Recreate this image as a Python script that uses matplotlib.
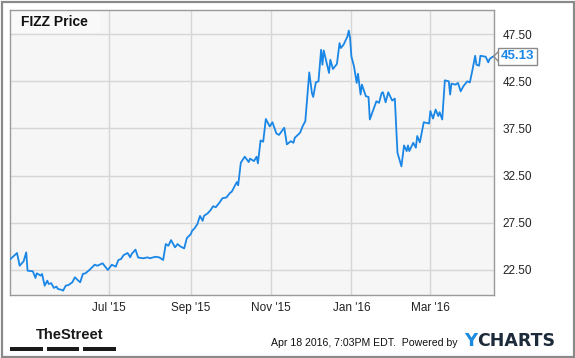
import pandas as pd
import matplotlib
matplotlib.use("Agg")
from matplotlib import pyplot as plt
import matplotlib.dates as mdates
from matplotlib.patches import Rectangle, Polygon
from matplotlib.transforms import IdentityTransform

# FIZZ closing price (days counted from 2015-04-17)
start_date = "2015-04-17"
day_offsets = [0, 5, 7, 10, 12, 13, 17, 19, 20, 23, 24, 26, 28, 29, 31, 33, 35, 36, 39, 40,
               42, 44, 47, 49, 51, 53, 55, 57, 60, 64, 66, 70, 74, 77, 80, 82, 84, 86, 89, 91,
               92, 95, 97, 101, 104, 106, 110, 113, 116, 118, 120, 122, 125, 127, 129, 132, 134, 137, 138, 140,
               142, 144, 146, 147, 150, 152, 154, 156, 159, 161, 164, 167, 168, 172, 173, 175, 178, 181, 182, 185,
               187, 188, 190, 192, 194, 197, 199, 202, 204, 208, 210, 213, 215, 216, 220, 222, 224, 227, 229, 230,
               232, 234, 236, 237, 238, 242, 243, 245, 248, 250, 251, 253, 256, 257, 258, 259, 261, 263, 264, 266,
               267, 270, 272, 273, 278, 280, 282, 283, 285, 287, 290, 292, 294, 297, 299, 301, 302, 303, 306, 308,
               309, 311, 314, 318, 319, 321, 323, 325, 326, 328, 330, 333, 334, 335, 338, 340, 342, 344, 347, 349,
               351, 353, 354, 356, 357, 361, 363, 364, 366, 367]
prices = [23.66, 24.30, 22.95, 23.42, 24.37, 22.43, 22.36, 21.66, 22.15, 21.90, 22.08, 20.84, 21.37, 21.02, 21.10, 20.60, 20.74, 20.49, 20.39, 20.31,
          20.84, 20.90, 21.20, 21.73, 21.44, 21.20, 22.08, 22.15, 22.50, 23.06, 22.95, 23.21, 22.50, 23.06, 22.85, 23.56, 23.66, 24.08, 24.30, 23.84,
          24.19, 24.66, 23.82, 23.74, 23.84, 23.74, 23.90, 23.84, 23.56, 25.25, 25.07, 25.67, 24.90, 25.25, 25.00, 24.79, 25.88, 26.30, 26.65, 26.94,
          27.36, 28.23, 27.71, 28.23, 28.52, 28.84, 29.26, 29.15, 29.68, 30.10, 30.18, 30.70, 30.77, 31.82, 31.48, 33.87, 34.51, 33.94, 34.30, 34.04,
          34.51, 33.80, 36.23, 36.09, 38.50, 37.71, 38.16, 36.97, 36.81, 37.57, 35.81, 36.15, 35.98, 36.51, 37.04, 37.74, 38.27, 43.44, 41.26, 40.84,
          42.38, 42.49, 45.84, 44.25, 45.76, 43.38, 44.78, 43.80, 44.33, 46.54, 46.02, 46.36, 47.24, 47.87, 47.07, 45.13, 44.07, 42.32, 43.30, 41.09,
          42.14, 40.91, 40.84, 38.45, 40.38, 40.21, 41.26, 41.33, 40.27, 41.33, 40.45, 40.66, 34.93, 33.48, 35.70, 35.10, 35.70, 35.10, 35.98, 35.46,
          36.70, 36.02, 38.16, 38.02, 39.34, 38.55, 39.50, 38.81, 39.22, 38.45, 42.60, 42.49, 41.09, 42.25, 42.14, 42.32, 41.43, 41.96, 42.49, 42.38,
          43.72, 45.20, 44.25, 44.15, 45.20, 45.10, 44.50, 44.86, 45.07, 45.13]

y_ticks = [22.5, 27.5, 32.5, 37.5, 42.5, 47.5]
x_tick_dates = ["2015-07-01", "2015-09-01", "2015-11-01", "2016-01-01", "2016-03-01"]
x_tick_labels = ["Jul '15", "Sep '15", "Nov '15", "Jan '16", "Mar '16"]

dates = pd.Timestamp(start_date) + pd.to_timedelta(day_offsets, unit="D")

plt.rcParams['font.family'] = ['Liberation Sans', 'DejaVu Sans']

W, H = 575, 358
fig = plt.figure(figsize=(W / 100, H / 100), dpi=100)
fig.patch.set_facecolor("white")

# outer frame
fig.patches.append(Rectangle((1.5 / W, 1.5 / H), 1 - 3 / W, 1 - 3 / H, transform=fig.transFigure,
                             fill=False, edgecolor="#8a8a8a", linewidth=1.6))

ax = fig.add_axes([10 / W, 1 - 295 / H, 484 / W, 285 / H])
ax.set_facecolor("#f6f6f6")
ax.plot(dates, prices, color="#1a86e6", linewidth=1.3, zorder=3)

ax.set_ylim(19.85, 50.05)
ax.set_xlim(pd.Timestamp(start_date) - pd.Timedelta(hours=8),
            pd.Timestamp(start_date) + pd.Timedelta(days=367, hours=8))
ax.set_yticks(y_ticks)
ax.set_yticklabels(["%.2f" % v for v in y_ticks])
ax.yaxis.tick_right()
ax.set_xticks(pd.to_datetime(x_tick_dates))
ax.set_xticklabels(x_tick_labels)
ax.tick_params(length=0, labelsize=8.5, colors="#222222")
ax.tick_params(axis="y", pad=6)
ax.tick_params(axis="x", pad=5)
ax.grid(True, color="#d6d6d6", linewidth=1)
ax.set_axisbelow(True)
for s in ax.spines.values():
    s.set_color("#9a9a9a")
    s.set_linewidth(1)

# title box
ax.add_patch(Rectangle((0, 1 - 23 / 285), 90 / 484, 23 / 285, transform=ax.transAxes,
                       facecolor="#f9f9f9", edgecolor="none", zorder=2))
ax.text(11 / 484, 1 - 12 / 285, "FIZZ Price", transform=ax.transAxes, fontsize=10,
        fontweight="bold", color="#111111", va="center", ha="left", zorder=4)

# last price callout
fig.canvas.draw()
px, py = ax.transData.transform((mdates.date2num(dates[-1]), prices[-1]))
fig.patches.append(Polygon([(px + 5.5, py + 5.5), (px, py), (px + 5.5, py - 5.5)], closed=False,
                           transform=IdentityTransform(), fill=False, edgecolor="#8a8a8a", linewidth=1))
fig.text((px + 7) / W, py / H, "%.2f" % prices[-1], fontsize=9.5, fontweight="bold", color="#1a86e6",
         va="center", ha="left",
         bbox=dict(boxstyle="square,pad=0.22", facecolor="white", edgecolor="#8a8a8a", linewidth=1))

# footer
fig.text(36 / W, 1 - 335 / H, "TheStreet", fontsize=10.5, fontweight="bold",
         family=["Liberation Sans Narrow", "Liberation Sans"], color="#1a1a1a", va="center", ha="left")
for x0 in [10, 46.7, 83.3]:
    fig.patches.append(Rectangle((x0 / W, 1 - 350.7 / H), 32.7 / W, 3.5 / H, transform=fig.transFigure,
                                 facecolor="#1a1a1a", edgecolor="none"))
fig.text(271 / W, 1 - 343 / H, "Apr 18 2016, 7:03PM EDT.  Powered by", fontsize=7.6,
         color="#111111", va="center", ha="left")
ty = fig.text(464 / W, 1 - 341 / H, "Y", fontsize=13, fontweight="bold", family="DejaVu Sans",
              color="#1a8be0", va="center", ha="left")
fig.canvas.draw()
y_end = ty.get_window_extent().x1
fig.text((y_end + 0.5) / W, 1 - 341 / H, "CHARTS", fontsize=12.5, fontweight="bold", family="DejaVu Sans",
         color="#1c2a3a", va="center", ha="left")

fig.savefig("out.png", dpi=100)
